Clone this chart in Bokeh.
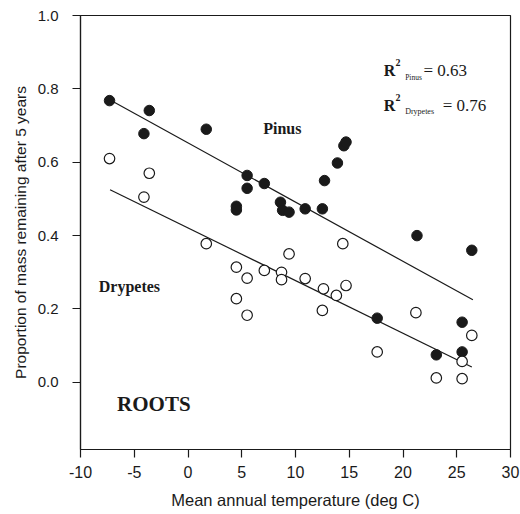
from bokeh.plotting import figure
from bokeh.models import FixedTicker, PrintfTickFormatter, Label, Range1d
from bokeh.embed import file_html
from bokeh.resources import INLINE

# ---- data ----
pinus_temp = [-7.3, -4.1, -3.6, 1.7, 4.5, 4.5, 5.5, 5.5, 7.1, 8.6, 8.8, 9.4,
              10.9, 12.5, 12.7, 13.9, 14.5, 14.7, 17.6, 21.3, 23.1, 25.5, 25.5, 26.4]
pinus_mass = [0.768, 0.678, 0.741, 0.690, 0.480, 0.470, 0.564, 0.529, 0.542, 0.491, 0.469, 0.464,
              0.473, 0.473, 0.550, 0.598, 0.645, 0.655, 0.175, 0.400, 0.075, 0.164, 0.083, 0.360]

drypetes_temp = [-7.3, -4.1, -3.6, 1.7, 4.5, 4.5, 5.5, 5.5, 7.1, 8.7, 8.7, 9.4,
                 10.9, 12.5, 12.6, 13.8, 14.4, 14.7, 17.6, 21.2, 23.1, 25.5, 25.5, 26.4]
drypetes_mass = [0.610, 0.505, 0.570, 0.378, 0.314, 0.228, 0.284, 0.183, 0.305, 0.300, 0.280, 0.350,
                 0.283, 0.196, 0.255, 0.237, 0.378, 0.264, 0.083, 0.190, 0.012, 0.010, 0.057, 0.128]

pinus_fit_temp = [-6.9, 26.5]
pinus_fit_mass = [0.764, 0.225]
drypetes_fit_temp = [-7.25, 26.4]
drypetes_fit_mass = [0.525, 0.042]

x_ticks = [-10, -5, 0, 5, 10, 15, 20, 25, 30]
y_ticks = [0.0, 0.2, 0.4, 0.6, 0.8, 1.0]

r2_pinus = "0.63"
r2_drypetes = "0.76"

SANS = "Liberation Sans"
SERIF = "Liberation Serif"
INK = "#1a1a1a"

p = figure(width=520, height=514,
           x_range=Range1d(-10, 30), y_range=Range1d(-0.183, 1.0),
           output_backend="svg", toolbar_location=None,
           min_border_left=80, min_border_right=10,
           min_border_top=15, min_border_bottom=65)

p.xgrid.visible = False
p.ygrid.visible = False
p.outline_line_color = INK
p.outline_line_width = 1.2
p.background_fill_color = "white"
p.border_fill_color = "white"

p.xaxis.ticker = FixedTicker(ticks=x_ticks, minor_ticks=[])
p.yaxis.ticker = FixedTicker(ticks=y_ticks, minor_ticks=[])
p.xaxis.formatter = PrintfTickFormatter(format="%d")
p.yaxis.formatter = PrintfTickFormatter(format="%.1f")

for ax in (p.xaxis[0], p.yaxis[0]):
    ax.axis_line_color = INK
    ax.axis_line_width = 1.2
    ax.major_tick_line_color = INK
    ax.major_tick_line_width = 1.2
    ax.major_tick_in = 0
    ax.major_tick_out = 8
    ax.minor_tick_out = 0
    ax.minor_tick_in = 0
    ax.major_label_text_font = SANS
    ax.major_label_text_color = INK
    ax.axis_label_text_font = SANS
    ax.axis_label_text_font_style = "normal"
    ax.axis_label_text_color = INK

p.xaxis.major_label_text_font_size = "16px"
p.yaxis.major_label_text_font_size = "15px"
p.xaxis.major_label_standoff = 8
p.yaxis.major_label_standoff = 14
p.xaxis.axis_label = "Mean annual temperature (deg C)"
p.yaxis.axis_label = "Proportion of mass remaining after 5 years"
p.xaxis.axis_label_text_font_size = "16.5px"
p.yaxis.axis_label_text_font_size = "15.5px"
p.xaxis.axis_label_standoff = 10
p.yaxis.axis_label_standoff = 6

# regression lines
p.line(pinus_fit_temp, pinus_fit_mass, line_color=INK, line_width=1.2)
p.line(drypetes_fit_temp, drypetes_fit_mass, line_color=INK, line_width=1.2)

# points
p.scatter(pinus_temp, pinus_mass, marker="circle", size=10.5,
          fill_color=INK, line_color=INK, line_width=1)
p.scatter(drypetes_temp, drypetes_mass, marker="circle", size=10.5,
          fill_color="white", line_color=INK, line_width=1.2)

# in-plot labels
def lab(x, y, text, size, style="bold", font=SERIF):
    p.add_layout(Label(x=x, y=y, text=text, text_font=font,
                       text_font_size=size, text_font_style=style,
                       text_color=INK, text_baseline="alphabetic",
                       text_align="left"))

lab(7.0, 0.692, "Pinus", "16px")
lab(-8.3, 0.26, "Drypetes", "16px")
lab(-6.6, -0.06, "ROOTS", "21px")

# R^2 annotations
lab(18.2, 0.850, "R", "16px")
lab(19.3, 0.872, "2", "10px")
lab(20.2, 0.830, "Pinus", "7.5px", style="normal")
lab(21.9, 0.850, "= " + r2_pinus, "17px", style="normal")

lab(18.2, 0.755, "R", "16px")
lab(19.3, 0.777, "2", "10px")
lab(20.2, 0.737, "Drypetes", "8px", style="normal")
lab(23.7, 0.755, "= " + r2_drypetes, "17px", style="normal")

open("out.html", "w").write(file_html(p, INLINE))
